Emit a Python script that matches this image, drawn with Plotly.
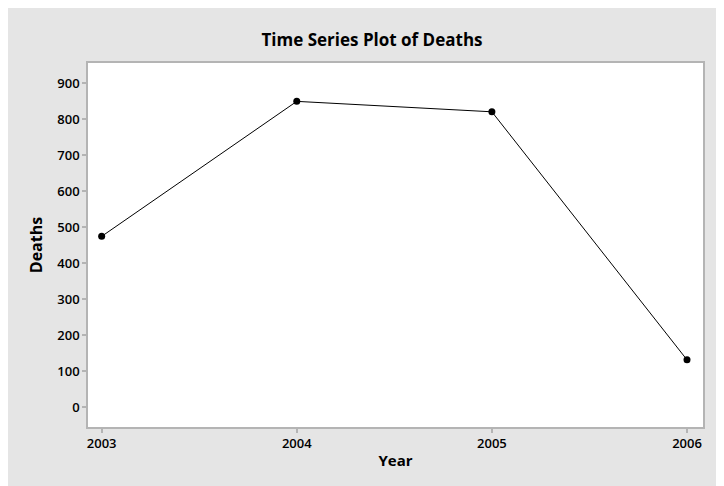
import plotly.graph_objects as go

years = [2003, 2004, 2005, 2006]
deaths = [474, 849, 820, 131]
x_ticks = [2003, 2004, 2005, 2006]
y_ticks = [0, 100, 200, 300, 400, 500, 600, 700, 800, 900]

# the page body adds an 8px margin; size the figure to fit the window
W, H = 716, 478
L, R, T, B = 80, 21, 55, 59

fig = go.Figure()
fig.add_trace(go.Scatter(
    x=years, y=deaths, mode="lines+markers",
    line=dict(color="black", width=1),
    marker=dict(color="black", size=7),
    showlegend=False,
))

font = "Open Sans, Noto Sans, DejaVu Sans, sans-serif"
axis_common = dict(
    showgrid=False, zeroline=False,
    showline=True, linecolor="#b4b4b4", linewidth=1.5, mirror=True,
    ticks="outside", tickcolor="#b4b4b4", ticklen=4, tickwidth=1.5,
    tickfont=dict(family=font, size=13, color="black", weight=600),
)

fig.update_layout(
    width=W, height=H,
    margin=dict(l=L, r=R, t=T, b=B),
    paper_bgcolor="#e5e5e5",
    plot_bgcolor="white",
    title=dict(text="Time Series Plot of Deaths", x=364 / W, xanchor="center",
               y=1 - 32 / H, yanchor="middle",
               font=dict(family=font, size=17, color="black", weight="bold")),
    xaxis=dict(range=[2003 - 0.07, 2006 + 0.082], tickvals=x_ticks,
               ticktext=[str(v) for v in x_ticks],
               title=dict(text="Year", standoff=4,
                          font=dict(family=font, size=15, color="black", weight="bold")),
               **axis_common),
    yaxis=dict(range=[-55.6, 955.6], tickvals=y_ticks,
               title=dict(text="Deaths", standoff=11,
                          font=dict(family=font, size=16, color="black", weight="bold")),
               **axis_common),
)

fig.write_html("out.html")
